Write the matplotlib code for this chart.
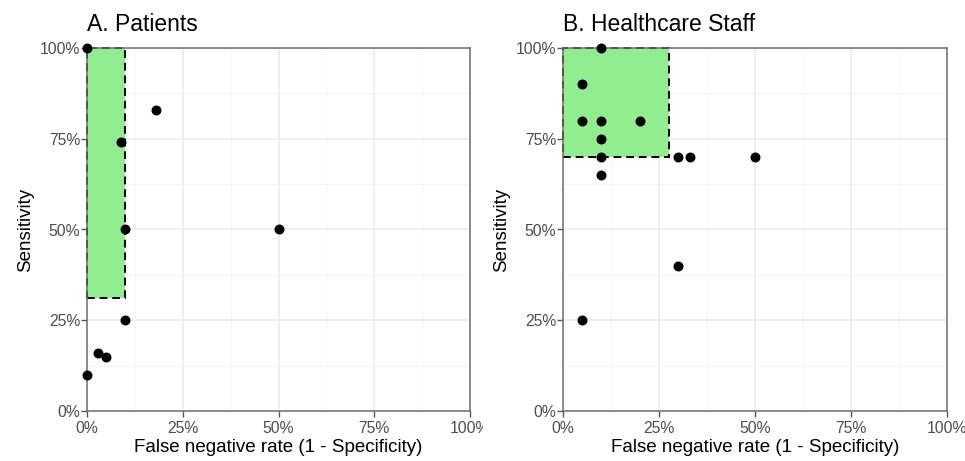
import matplotlib.pyplot as plt
from matplotlib.patches import Rectangle
from matplotlib.ticker import FixedLocator, PercentFormatter

plt.rcParams['font.family'] = ['Liberation Sans', 'DejaVu Sans']

# Panel A: patients
pat_fnr = [0.00, 0.09, 0.18, 0.10, 0.50, 0.10, 0.03, 0.05, 0.00]
pat_sens = [1.00, 0.74, 0.83, 0.50, 0.50, 0.25, 0.16, 0.15, 0.10]
pat_box = (0.10, 0.31)  # max false negative rate, min sensitivity

# Panel B: healthcare staff
staff_fnr = [0.10, 0.05, 0.05, 0.10, 0.20, 0.10, 0.10, 0.10, 0.30, 0.33, 0.50, 0.30, 0.05]
staff_sens = [1.00, 0.90, 0.80, 0.80, 0.80, 0.75, 0.70, 0.65, 0.70, 0.70, 0.70, 0.40, 0.25]
staff_box = (0.275, 0.70)

titles = ["A. Patients", "B. Healthcare Staff"]

W, H = 965, 461
fig = plt.figure(figsize=(W / 100, H / 100), dpi=100)
ax_a = fig.add_axes([87 / W, 50 / H, 383 / W, 363 / H])
ax_b = fig.add_axes([563 / W, 50 / H, 384 / W, 363 / H])

panels = [(ax_a, pat_fnr, pat_sens, pat_box), (ax_b, staff_fnr, staff_sens, staff_box)]
for (ax, xs, ys, box), title in zip(panels, titles):
    ax.set_xlim(0, 1)
    ax.set_ylim(0, 1)
    ax.xaxis.set_major_locator(FixedLocator([0, 0.25, 0.5, 0.75, 1]))
    ax.yaxis.set_major_locator(FixedLocator([0, 0.25, 0.5, 0.75, 1]))
    ax.xaxis.set_minor_locator(FixedLocator([0.125, 0.375, 0.625, 0.875]))
    ax.yaxis.set_minor_locator(FixedLocator([0.125, 0.375, 0.625, 0.875]))
    ax.xaxis.set_major_formatter(PercentFormatter(1.0, decimals=0))
    ax.yaxis.set_major_formatter(PercentFormatter(1.0, decimals=0))
    ax.grid(which='major', color='#ebebeb', linewidth=1.1)
    ax.grid(which='minor', color='#f4f4f4', linewidth=0.6)
    ax.set_axisbelow(True)
    ax.tick_params(which='major', length=4, width=1, color='#555555',
                   labelcolor='#4d4d4d', labelsize=11.3, pad=1)
    ax.tick_params(axis='x', which='major', pad=3)
    ax.tick_params(which='minor', length=0)
    for s in ax.spines.values():
        s.set_color('#6e6e6e')
        s.set_linewidth(1.1)

    ax.add_patch(Rectangle((0, box[1]), box[0], 1 - box[1], facecolor='#90ee90',
                           edgecolor='black', linestyle=(0, (4, 2.5)), linewidth=1.4,
                           zorder=2, clip_on=False))
    ax.scatter(xs, ys, s=38, color='black', zorder=4, clip_on=False)

    ax.set_xlabel("False negative rate (1 - Specificity)", fontsize=13.5, labelpad=2)
    ax.set_ylabel("Sensitivity", fontsize=13.5, labelpad=4)
    ax.set_title(title, loc='left', fontsize=16.5, pad=12)

# right panel background covers the end of the left panel's last tick label
fig.patches.append(Rectangle((483 / W, 0), 15 / W, 48 / H, transform=fig.transFigure,
                             facecolor='white', edgecolor='none', zorder=5))

fig.savefig("out.png", dpi=100)
